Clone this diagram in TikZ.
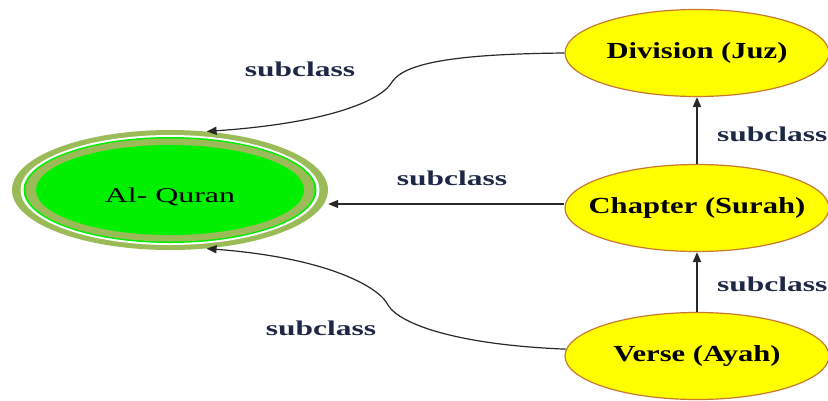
\documentclass[tikz,border=0pt]{standalone}
\usepackage{fontspec}
\setmainfont{Liberation Serif}
\newfontfamily\rootfont[FakeStretch=1.52]{Liberation Serif}
\newfontfamily\classfont[FakeStretch=1.33]{Liberation Serif}
\newfontfamily\relfont[FakeStretch=1.5]{Liberation Serif}
\usetikzlibrary{shapes.geometric,arrows.meta}

\definecolor{ringolive}{RGB}{155,187,89}
\definecolor{rootgreen}{RGB}{0,240,0}
\definecolor{classyellow}{RGB}{255,255,0}
\definecolor{classborder}{RGB}{200,120,50}
\definecolor{relnavy}{RGB}{30,40,70}
\definecolor{edgegray}{RGB}{40,40,40}

\begin{document}
\begin{tikzpicture}[
			x=1pt, y=-1pt,
			class/.style={ellipse, draw=classborder, line width=1.2pt, fill=classyellow,
				minimum width=264pt, minimum height=87pt, inner xsep=-45pt, inner ysep=-8pt,
				font=\classfont\bfseries\fontsize{23}{26}\selectfont},
			rel/.style={text=relnavy, inner sep=0pt,
				font=\relfont\bfseries\fontsize{21}{24}\selectfont},
			link/.style={draw=edgegray, line width=1.2pt, -{Triangle[length=10pt,width=8pt]}}
			]
			\useasboundingbox (0,0) rectangle (828,400);
			
			% Root class rings
			\fill[ringolive] (170,190) ellipse [x radius=158pt, y radius=60pt];
			\fill[white] (170,190) ellipse [x radius=149.5pt, y radius=55pt];
			\fill[rootgreen] (170,190) ellipse [x radius=146.5pt, y radius=53pt];
			\fill[ringolive] (170,190) ellipse [x radius=144.5pt, y radius=51.5pt];
			\fill[rootgreen] (170,190) ellipse [x radius=134pt, y radius=45pt];
			\node[ellipse, minimum width=316pt, minimum height=120pt, inner sep=0pt,
				text height=25pt, text depth=0pt,
				font=\rootfont\fontsize{21}{24}\selectfont] (quran) at (170,190) {Al- Quran};
			
			% Subclasses
			\node[class] (division) at (697,53) {Division (Juz)};
			\node[class] (chapter) at (697,208) {Chapter (Surah)};
			\node[class] (verse) at (697,356) {Verse (Ayah)};
			
			% Subclass links
			\draw[link] (division.west) .. controls (460,54) and (405,62) .. (392,82)
				.. controls (382,100) and (330,123) .. (quran.58);
			\draw[link] ([yshift=4pt]chapter.west) -- ([yshift=4pt]chapter.west -| quran.east);
			\draw[link] (verse.177) .. controls (460,345) and (400,325) .. (388,305)
				.. controls (380,288) and (330,258) .. (quran.-58);
			\draw[link, line width=2pt] (chapter.north) -- (division.south);
			\draw[link, line width=2pt] (verse.north) -- (chapter.south);
			
			% Link labels
			\node[rel, anchor=base] (subdiv) at (300,76) {subclass};
			\node[rel, anchor=base] (subchap) at (452,185) {subclass};
			\node[rel, anchor=base] (subverse) at (321,335) {subclass};
			\node[rel, anchor=base west] (subup) at (717,141) {subclass};
			\node[rel, anchor=base west] (sublow) at (717,291) {subclass};
		\end{tikzpicture}
\end{document}
